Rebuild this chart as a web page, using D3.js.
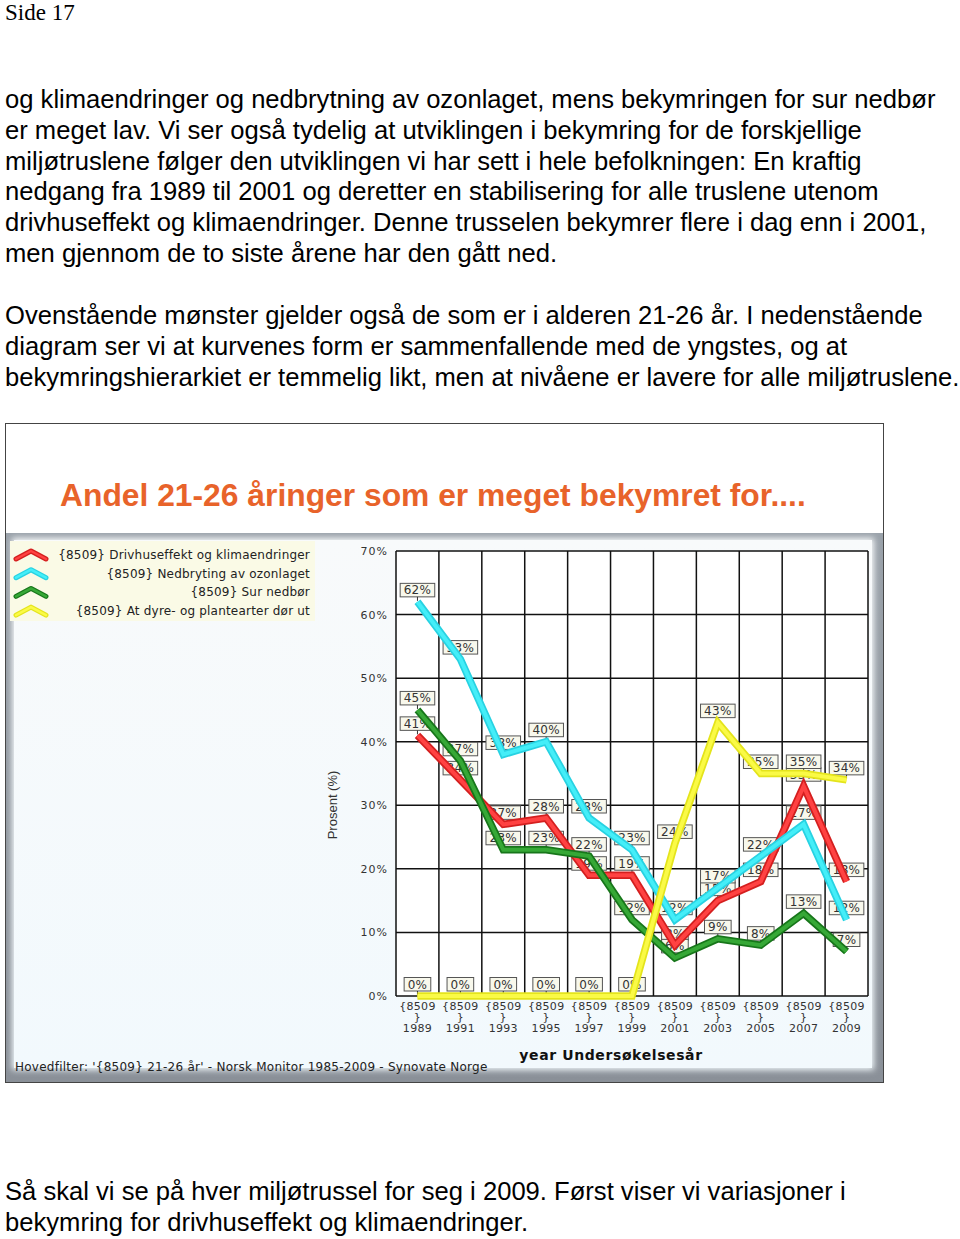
<!DOCTYPE html>
<html><head><meta charset="utf-8">
<script src="https://cdn.jsdelivr.net/npm/d3@7"></script>
<style>body{margin:0;background:#fff}svg{display:block}</style>
</head><body>
<script>
// ---- data ----
const years = ["1989","1991","1993","1995","1997","1999","2001","2003","2005","2007","2009"];
const drivhus = [41,34,27,28,19,19,8,15,18,33,18];
const ozon = [62,53,38,40,28,23,12,17,22,27,12];
const surNedbor = [45,37,23,23,22,12,6,9,8,13,7];
const dyrePlanter = [0,0,0,0,0,0,24,43,35,35,34];
const seriesNames = ["{8509} Drivhuseffekt og klimaendringer","{8509} Nedbryting av ozonlaget","{8509} Sur nedbør","{8509} At dyre- og plantearter dør ut"];
const yTicks = [0,10,20,30,40,50,60,70];
const pageTop = ["og klimaendringer og nedbrytning av ozonlaget, mens bekymringen for sur nedbør",
"er meget lav. Vi ser også tydelig at utviklingen i bekymring for de forskjellige",
"miljøtruslene følger den utviklingen vi har sett i hele befolkningen: En kraftig",
"nedgang fra 1989 til 2001 og deretter en stabilisering for alle truslene utenom",
"drivhuseffekt og klimaendringer. Denne trusselen bekymrer flere i dag enn i 2001,",
"men gjennom de to siste årene har den gått ned."];
const pageMid = ["Ovenstående mønster gjelder også de som er i alderen 21-26 år. I nedenstående",
"diagram ser vi at kurvenes form er sammenfallende med de yngstes, og at",
"bekymringshierarkiet er temmelig likt, men at nivåene er lavere for alle miljøtruslene."];
const pageBottom = ["Så skal vi se på hver miljøtrussel for seg i 2009. Først viser vi variasjoner i",
"bekymring for drivhuseffekt og klimaendringer."];

const series = [
  {name: seriesNames[0], values: drivhus, outer:"#d41f1f", inner:"#ff4242"},
  {name: seriesNames[1], values: ozon, outer:"#28d2e2", inner:"#44eef8"},
  {name: seriesNames[2], values: surNedbor, outer:"#17761a", inner:"#36a836"},
  {name: seriesNames[3], values: dyrePlanter, outer:"#e4e41c", inner:"#fafa46"}
];

const svg = d3.select("body").append("svg").attr("width",960).attr("height",1239);
svg.append("rect").attr("width",960).attr("height",1239).attr("fill","#fff");

// page text
svg.append("text").attr("x",5).attr("y",20).attr("font-family","Liberation Serif, Times New Roman, serif")
  .attr("font-size",23).attr("fill","#000").text("Side 17");
const ptxt = (lines, y0) => lines.forEach((t,i)=>{
  svg.append("text").attr("x",5).attr("y",y0+i*30.8).attr("font-family","Liberation Sans, Arial, sans-serif")
    .attr("font-size",25.6).attr("fill","#000").text(t);
});
ptxt(pageTop,108); ptxt(pageMid,324); ptxt(pageBottom,1200);

// chart frame
const defs = svg.append("defs");
const g1 = defs.append("linearGradient").attr("id","bev").attr("x1",0).attr("y1",0).attr("x2",0).attr("y2",1);
g1.append("stop").attr("offset","0").attr("stop-color","#9aa2aa");
g1.append("stop").attr("offset","1").attr("stop-color","#8a9098");
const g2 = defs.append("linearGradient").attr("id","pan").attr("x1",0).attr("y1",0).attr("x2",0).attr("y2",1);
g2.append("stop").attr("offset","0").attr("stop-color","#f8fafb");
g2.append("stop").attr("offset","1").attr("stop-color","#f2f9fd");
const fb = defs.append("filter").attr("id","blur").attr("x","-5%").attr("y","-5%").attr("width","110%").attr("height","110%");
fb.append("feGaussianBlur").attr("stdDeviation",3);

svg.append("rect").attr("x",5.5).attr("y",423.5).attr("width",878).attr("height",659).attr("fill","#fff").attr("stroke","#444").attr("stroke-width",1);
svg.append("rect").attr("x",6).attr("y",533).attr("width",877).attr("height",549).attr("fill","url(#bev)");
svg.append("rect").attr("x",12).attr("y",538).attr("width",862).attr("height",532).attr("fill","url(#pan)").attr("filter","url(#blur)");
svg.append("rect").attr("x",14).attr("y",540).attr("width",858).attr("height",528).attr("fill","url(#pan)");

// title
svg.append("text").attr("x",60).attr("y",506).attr("font-family","Liberation Sans, Arial, sans-serif")
  .attr("font-weight","bold").attr("font-size",31.8).attr("fill","#e8632a")
  .text("Andel 21-26 åringer som er meget bekymret for....");

// legend
svg.append("rect").attr("x",10).attr("y",541).attr("width",305).attr("height",80).attr("fill","#fafae6");
series.forEach((s,i)=>{
  const cy = 555 + i*18.7;
  svg.append("path").attr("d",`M16,${cy+4} L31,${cy-4} L46,${cy+4}`).attr("fill","none")
    .attr("stroke",s.outer).attr("stroke-width",5).attr("stroke-linecap","round").attr("stroke-linejoin","round");
  svg.append("path").attr("d",`M16,${cy+4} L31,${cy-4} L46,${cy+4}`).attr("fill","none")
    .attr("stroke",s.inner).attr("stroke-width",2.5).attr("stroke-linecap","round").attr("stroke-linejoin","round");
  svg.append("text").attr("x",310).attr("y",cy+4).attr("text-anchor","end")
    .attr("font-family","DejaVu Sans, Verdana, sans-serif").attr("font-size",12).attr("letter-spacing",0.2)
    .attr("fill","#222").text(s.name);
});

// scales
const x = d3.scaleBand().domain(years).range([396,868]).paddingInner(0).paddingOuter(0);
const y = d3.scaleLinear().domain([0,70]).range([996,551]);
const cx = d => x(d) + x.bandwidth()/2;

// plot bg + grid
svg.append("rect").attr("x",396).attr("y",551).attr("width",472).attr("height",445).attr("fill","#fff");
svg.append("g").selectAll("line").data(yTicks).join("line")
  .attr("x1",396).attr("x2",868).attr("y1",d=>y(d)).attr("y2",d=>y(d)).attr("stroke","#111").attr("stroke-width",1.5);
svg.append("g").selectAll("line").data(years.concat(["end"])).join("line")
  .attr("x1",(d,i)=> i<years.length ? x(d) : 868).attr("x2",(d,i)=> i<years.length ? x(d) : 868)
  .attr("y1",551).attr("y2",996).attr("stroke","#111").attr("stroke-width",1.5);

// y tick labels
svg.append("g").selectAll("text").data(yTicks).join("text")
  .attr("x",388).attr("y",d=>y(d)+4).attr("text-anchor","end")
  .attr("font-family","DejaVu Sans, Verdana, sans-serif").attr("font-size",11).attr("letter-spacing",1).attr("fill","#333")
  .text(d=>d+"%");
// y axis title
svg.append("text").attr("transform","translate(337,805) rotate(-90)").attr("text-anchor","middle")
  .attr("font-family","Liberation Sans Narrow, Arial Narrow, Liberation Sans, sans-serif").attr("font-size",13).attr("fill","#333")
  .text("Prosent (%)");

// x labels
const xl = svg.append("g").selectAll("g").data(years).join("g").attr("transform",d=>`translate(${cx(d)},0)`);
const xf = sel => sel.attr("text-anchor","middle").attr("font-family","DejaVu Sans, Verdana, sans-serif").attr("font-size",11).attr("letter-spacing",0.3).attr("fill","#333");
xl.append("text").attr("y",1010).call(xf).text("{8509");
xl.append("text").attr("y",1021).call(xf).text("}");
xl.append("text").attr("y",1032).call(xf).text(d=>d);

svg.append("text").attr("x",611).attr("y",1060).attr("text-anchor","middle")
  .attr("font-family","DejaVu Sans, Verdana, sans-serif").attr("font-weight","bold").attr("font-size",14).attr("letter-spacing",0.6).attr("fill","#111")
  .text("year Undersøkelsesår");
svg.append("text").attr("x",15).attr("y",1071)
  .attr("font-family","DejaVu Sans, Verdana, sans-serif").attr("font-size",12).attr("letter-spacing",0.25).attr("fill","#222")
  .text("Hovedfilter: '{8509} 21-26 år' - Norsk Monitor 1985-2009 - Synovate Norge");

// data labels (drawn under lines)
const lab = svg.append("g");
series.forEach(s=>{
  s.values.forEach((v,i)=>{
    const px = cx(years[i]), py = y(v);
    const g = lab.append("g");
    const t = g.append("text").attr("x",px).attr("y",py-7.5).attr("text-anchor","middle")
      .attr("font-family","DejaVu Sans, Verdana, sans-serif").attr("font-size",12).attr("letter-spacing",0.3).attr("fill","#333").text(v+"%");
    const w = t.node().getComputedTextLength()+7;
    g.insert("rect","text").attr("x",px-w/2).attr("y",py-18.5).attr("width",w).attr("height",13.5)
      .attr("fill","#f8f8ec").attr("stroke","#555").attr("stroke-width",1);
    g.append("line").attr("x1",px).attr("x2",px).attr("y1",py-5).attr("y2",py-1).attr("stroke","#333").attr("stroke-width",1);
  });
});

// lines
const line = d3.line().x((d,i)=>cx(years[i])).y(d=>y(d));
series.forEach(s=>{
  svg.append("path").attr("d",line(s.values)).attr("fill","none").attr("stroke",s.outer).attr("stroke-width",7.5)
    .attr("stroke-linejoin","miter").attr("stroke-linecap","butt");
  svg.append("path").attr("d",line(s.values)).attr("fill","none").attr("stroke",s.inner).attr("stroke-width",4)
    .attr("stroke-linejoin","miter").attr("stroke-linecap","butt");
});
</script>
</body></html>
